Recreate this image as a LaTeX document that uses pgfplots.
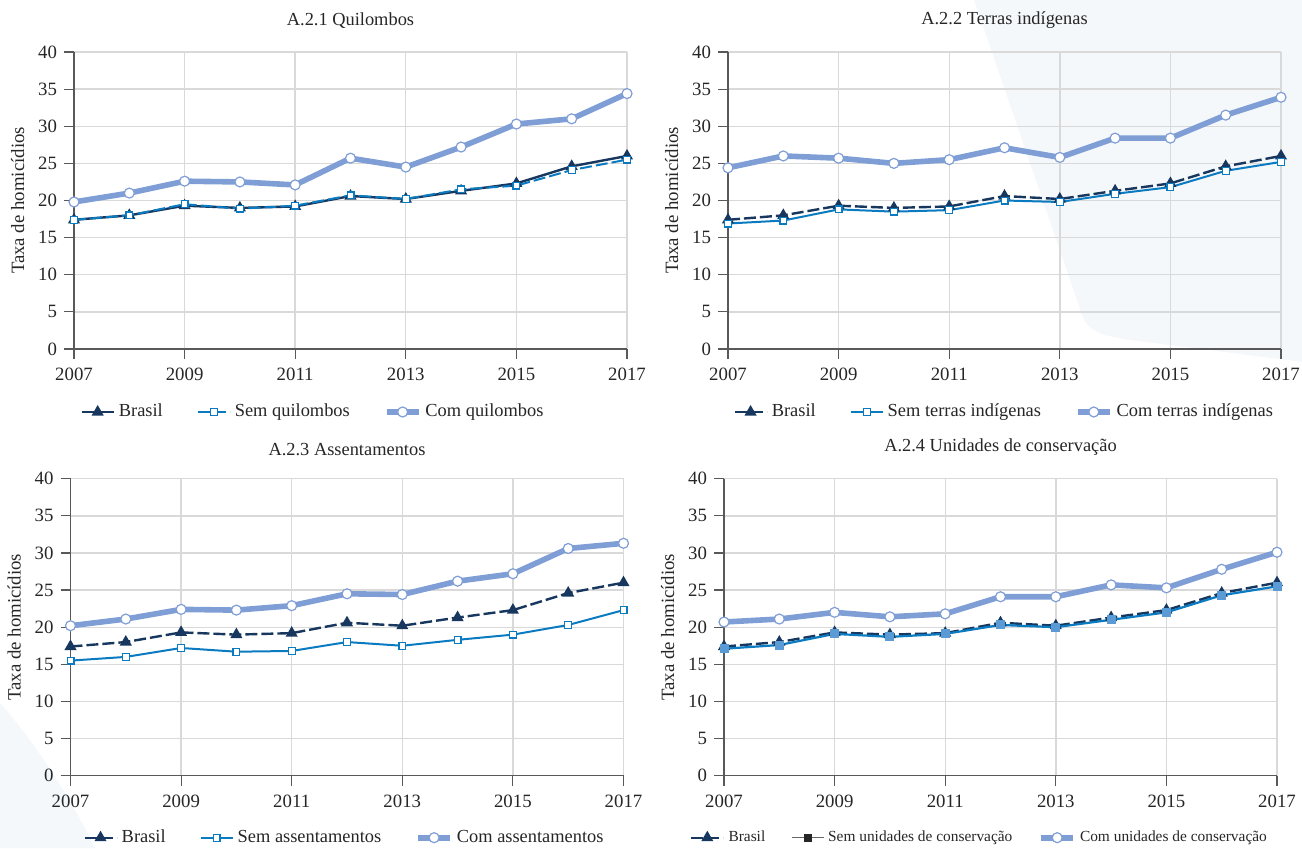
\documentclass[border=0pt]{standalone}
\usepackage{fontspec}
\setmainfont{Liberation Serif}
\usepackage{pgfplots}
\pgfplotsset{compat=1.18}
\definecolor{navy}{HTML}{17375E}
\definecolor{semblue}{HTML}{0B7BC1}
\definecolor{comblue}{HTML}{7F9ED6}
\definecolor{sqblue}{HTML}{5B9BD5}
\definecolor{gridgray}{HTML}{D9D9D9}
\definecolor{axgray}{HTML}{595959}
\definecolor{bgdeco}{HTML}{F5F8FB}

\pgfplotstableread{
year brasil semq comq semt comt sema coma semu comu
2007 17.4 17.4 19.8 16.9 24.4 15.5 20.2 17.1 20.7
2008 18.0 18.0 21.0 17.3 26.0 16.0 21.1 17.6 21.1
2009 19.3 19.5 22.6 18.8 25.7 17.2 22.4 19.1 22.0
2010 19.0 18.9 22.5 18.5 25.0 16.7 22.3 18.7 21.4
2011 19.2 19.3 22.1 18.7 25.5 16.8 22.9 19.1 21.8
2012 20.6 20.7 25.7 20.0 27.1 18.0 24.5 20.3 24.1
2013 20.2 20.2 24.5 19.8 25.8 17.5 24.4 20.0 24.1
2014 21.3 21.5 27.2 20.9 28.4 18.3 26.2 21.0 25.7
2015 22.3 22.0 30.3 21.8 28.4 19.0 27.2 22.0 25.3
2016 24.6 24.1 31.0 24.0 31.5 20.3 30.6 24.3 27.8
2017 26.0 25.5 34.4 25.2 33.9 22.3 31.3 25.5 30.1
}\data

\pgfplotsset{
  panel/.style={
    width=276.5pt, height=148.5pt, scale only axis,
    xmin=2007, xmax=2017, ymin=0, ymax=40,
    xtick={2007,2009,...,2017}, ytick={0,5,...,40},
    /pgf/number format/.cd, 1000 sep={}, assume math mode=true, /pgfplots/.cd,
    grid=major, grid style={gridgray, line width=0.7pt},
    axis x line*=bottom, axis y line*=left,
    axis line style={axgray, line width=0.6pt, -},
    tick align=outside, major tick length=5pt,
    tick style={axgray, line width=0.6pt},
    ticklabel style={font=\fontsize{9.4}{10}\selectfont, text=black!85},
    xticklabel style={yshift=-1pt},
    ylabel={Taxa de homicídios},
    ylabel style={font=\fontsize{9.4}{10}\selectfont, text=black!85},
    title style={font=\fontsize{9.2}{10}\selectfont, text=black!85, at={(axis description cs:0.5,1)}, anchor=south, yshift=2pt},
    legend columns=3,
    legend style={draw=none, fill=none, inner sep=0pt, font=\fontsize{9.2}{10}\selectfont, text=black!85,
      /tikz/every even column/.append style={column sep=15pt}},
    legend cell align=left,
    legend image code/.code={\draw[mark repeat=2,mark phase=2,##1] plot coordinates {(0pt,0pt) (8pt,0pt) (16pt,0pt)};},
    clip=false,
  },
  brasilsolid/.style={navy, line width=1.2pt, mark=triangle*, mark size=2.3pt, mark options={solid, fill=navy, draw=navy}},
  brasildash/.style={navy, line width=1.2pt, dash pattern=on 6pt off 2pt, mark=triangle*, mark size=2.3pt, mark options={solid, fill=navy, draw=navy}},
  semsolid/.style={semblue, line width=1.0pt, mark=square*, mark size=1.7pt, mark options={solid, fill=white, draw=semblue, line width=0.6pt}},
  semdash/.style={semblue, line width=1.0pt, dash pattern=on 6pt off 2pt, mark=square*, mark size=1.7pt, mark options={solid, fill=white, draw=semblue, line width=0.6pt}},
  com/.style={comblue, line width=2.8pt, mark=*, mark size=2.5pt, mark options={solid, fill=white, draw=comblue, line width=0.6pt}},
}

\begin{document}
\begin{tikzpicture}
\path[use as bounding box] (0pt,0pt) rectangle (651pt,424pt);
% faint background decorations
\fill[bgdeco] (487pt,424pt) -- (540.5pt,268pt) .. controls (543pt,258pt) and (552pt,256pt) .. (565pt,254pt) -- (651pt,243pt) -- (651pt,424pt) -- cycle;
\fill[bgdeco] (0pt,72.5pt) .. controls (20pt,50pt) and (38pt,20pt) .. (47.5pt,0pt) -- (0pt,0pt) -- cycle;

% Panel 1
\begin{axis}[panel, at={(37pt,249.5pt)}, anchor=south west, title={A.2.1 Quilombos},
  legend style={at={(axis description cs:0.011,0)}, anchor=west, yshift=-31.5pt}]
\addplot[brasilsolid] table[x=year,y=brasil]{\data};
\addlegendentry{Brasil}
\addplot[semdash] table[x=year,y=semq]{\data};
\addlegendentry{Sem quilombos}
\addplot[com] table[x=year,y=comq]{\data};
\addlegendentry{Com quilombos}
\end{axis}

% Panel 2
\begin{axis}[panel, at={(364pt,249.5pt)}, anchor=south west, title={A.2.2 Terras indígenas},
  legend style={at={(axis description cs:0.009,0)}, anchor=west, yshift=-31.5pt}]
\addplot[brasildash] table[x=year,y=brasil]{\data};
\addlegendentry{Brasil}
\addplot[semsolid] table[x=year,y=semt]{\data};
\addlegendentry{Sem terras indígenas}
\addplot[com] table[x=year,y=comt]{\data};
\addlegendentry{Com terras indígenas}
\end{axis}

% Panel 3
\begin{axis}[panel, at={(35.25pt,36.15pt)}, anchor=south west, title={A.2.3 Assentamentos},
  legend style={at={(axis description cs:0.0225,0)}, anchor=west, yshift=-31pt}]
\addplot[brasildash] table[x=year,y=brasil]{\data};
\addlegendentry{Brasil}
\addplot[semsolid] table[x=year,y=sema]{\data};
\addlegendentry{Sem assentamentos}
\addplot[com] table[x=year,y=coma]{\data};
\addlegendentry{Com assentamentos}
\end{axis}

% Panel 4
\begin{axis}[panel, at={(362pt,36.15pt)}, anchor=south west, title={A.2.4 Unidades de conservação},
  legend style={at={(axis description cs:-0.062,0)}, anchor=west, yshift=-31pt, font=\fontsize{7.7}{9}\selectfont,
    /tikz/every even column/.append style={column sep=11pt}}]
\addplot[brasildash] table[x=year,y=brasil]{\data};
\addlegendentry{Brasil}
\addplot[semblue, line width=1.1pt, mark=square*, mark size=1.7pt, mark options={solid, fill=sqblue, draw=sqblue}, forget plot] table[x=year,y=semu]{\data};
\addlegendimage{black!60, line width=0.4pt, mark=square*, mark size=1.6pt, mark options={fill=black!85, draw=black!85}}
\addlegendentry{Sem unidades de conservação}
\addplot[com] table[x=year,y=comu]{\data};
\addlegendentry{Com unidades de conservação}
\end{axis}
\end{tikzpicture}
\end{document}
